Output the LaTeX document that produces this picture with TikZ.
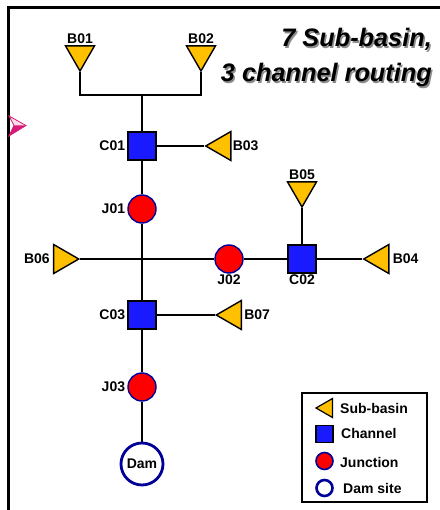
\documentclass[tikz,border=0pt]{standalone}
\usepackage{fontspec}
\setmainfont{Liberation Sans}
\usetikzlibrary{shapes.geometric}
\definecolor{basin}{HTML}{FFC000}
\definecolor{chan}{HTML}{1A1AFF}
\definecolor{junc}{HTML}{FF0000}
\definecolor{jborder}{HTML}{000099}
\definecolor{pinkar}{HTML}{D81B78}
\begin{document}
\begin{tikzpicture}[x=1pt,y=-1pt,
  lbl/.style={font=\fontsize{14}{16}\selectfont\bfseries, inner sep=1pt},
  tri/.style={regular polygon, regular polygon sides=3, minimum size=33.5pt, inner sep=0pt, draw=black, line width=1.4pt, fill=basin},
  tridown/.style={tri, regular polygon rotate=180},
  trileft/.style={tri, regular polygon rotate=90},
  triright/.style={tri, regular polygon rotate=-90},
  chanbox/.style={rectangle, minimum size=28pt, inner sep=0pt, draw=black, line width=1.4pt, fill=chan},
  juncnode/.style={circle, minimum size=28pt, inner sep=0pt, draw=jborder, line width=1.4pt, fill=junc},
  damnode/.style={circle, minimum size=42pt, inner sep=0pt, draw=jborder, line width=2.8pt, fill=white, font=\fontsize{14}{16}\selectfont\bfseries},
  link/.style={line width=2.4pt, draw=black},
  title/.style={font=\fontsize{25.3}{28}\selectfont\bfseries\itshape, inner sep=0pt, anchor=base east}
]
\useasboundingbox (0,0) rectangle (439,510);
% frame
\draw[line width=3pt] (8,511) -- (8,8) -- (440,8);
% pink arrowhead
\filldraw[draw=pinkar, fill=pinkar!15, line width=0.8pt] (9,116) -- (26,125.5) -- (9,136) -- (14,125.5) -- cycle;
\fill[pinkar] (9,136) -- (14,125.5) -- (26,125.5) -- cycle;
% title
\node[title, text=black!45] at (433.5,48.5) {7 Sub-basin,};
\node[title, text=black!45] at (433.5,83.5) {3 channel routing};
\node[title] (t1) at (432,47) {7 Sub-basin,};
\node[title] (t2) at (432,82) {3 channel routing};

% nodes
\coordinate (tj) at (142,95);
\node[tridown, label={[lbl]above:B01}] (b01) at (80,54.25) {};
\node[tridown, label={[lbl]above:B02}] (b02) at (201,54.25) {};
\node[chanbox, label={[lbl, label distance=1pt]left:C01}] (c01) at (142,146) {};
\node[trileft, label={[lbl]right:B03}] (b03) at (222.5,146) {};
\node[juncnode, label={[lbl, label distance=1pt]left:J01}] (j01) at (142,209) {};
\node[tridown, label={[lbl]above:B05}] (b05) at (302,190.25) {};
\node[triright, label={[lbl, label distance=2pt]left:B06}] (b06) at (62,259) {};
\node[juncnode, label={[lbl]below:J02}] (j02) at (229,259) {};
\node[chanbox, label={[lbl]below:C02}] (c02) at (302,259) {};
\node[trileft, label={[lbl, label distance=2pt]right:B04}] (b04) at (380.5,259) {};
\node[chanbox, label={[lbl, label distance=1pt]left:C03}] (c03) at (142,315) {};
\node[trileft, label={[lbl, label distance=1pt]right:B07}] (b07) at (233,315) {};
\node[juncnode, label={[lbl, label distance=1pt]left:J03}] (j03) at (142,387) {};
\node[damnode] (dam) at (142,464) {Dam};

% connectors
\draw[link] (b01) |- (tj) -| (b02);
\draw[link] (tj) -- (c01);
\draw[link] (c01) -- (j01);
\draw[link] (j01) -- (c03);
\draw[link] (c03) -- (j03);
\draw[link] (j03) -- (dam);
\draw[link] (c01) -- (b03);
\draw[link] (b06) -- (j02);
\draw[link] (j02) -- (c02);
\draw[link] (c02) -- (b04);
\draw[link] (b05) -- (c02);
\draw[link] (c03) -- (b07);

% legend
\draw[line width=2.2pt] (302,393) rectangle (427,502);
\node[tri, regular polygon rotate=90, minimum size=22pt, line width=1.2pt] (lg1) at (327,408) {};
\node[chanbox, minimum size=17pt, line width=1.2pt] (lg2) at (324.5,434) {};
\node[juncnode, minimum size=17pt, line width=1.6pt] (lg3) at (324.5,461) {};
\node[circle, minimum size=16pt, inner sep=0pt, draw=jborder, line width=2.6pt, fill=white] (lg4) at (324.5,488) {};
\node[lbl, anchor=west] (lt1) at (339,408) {Sub-basin};
\node[lbl, anchor=west] (lt2) at (340,433) {Channel};
\node[lbl, anchor=west] (lt3) at (339,462) {Junction};
\node[lbl, anchor=west] (lt4) at (342,488) {Dam site};
\end{tikzpicture}
\end{document}
